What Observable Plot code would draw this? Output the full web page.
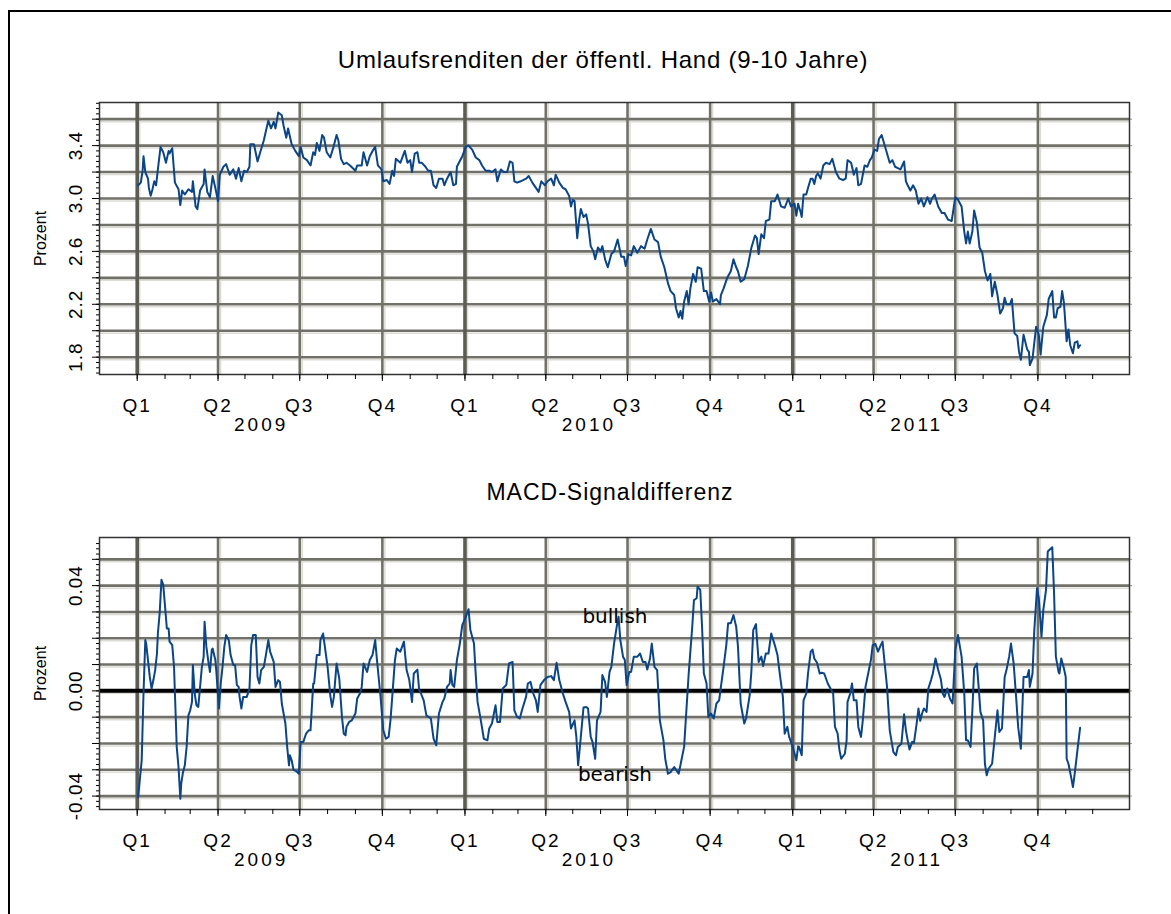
<!DOCTYPE html>
<html><head><meta charset="utf-8">
<script src="https://cdn.jsdelivr.net/npm/d3@7"></script>
<script src="https://cdn.jsdelivr.net/npm/@observablehq/plot@0.6"></script>
<style>
body{margin:0;background:#fff;}
#wrap{position:relative;width:1171px;height:914px;overflow:hidden;background:#fff;}
.border{position:absolute;left:8px;top:10px;width:1200px;height:1000px;border-left:2px solid #000;border-top:2px solid #000;}
.title{position:absolute;text-align:center;font-family:"Liberation Sans",Arial,sans-serif;color:#000;white-space:nowrap;}
#wrap svg{position:absolute;left:0;}
</style></head><body><div id="wrap"><div class="border"></div></div>
<script>
// ---- data: [day offset from 2009-01-01, value] ----
const yieldSeries = [
[1,3.10],[4,3.12],[6,3.21],[7,3.32],[9,3.20],[12,3.15],[13,3.08],[15,3.02],[17,3.07],[19,3.13],[21,3.10],[23,3.22],[26,3.39],[29,3.35],[32,3.27],[35,3.36],[36,3.34],[39,3.38],[42,3.12],[46,3.07],[48,2.95],[50,3.06],[53,3.03],[57,3.07],[61,3.05],[62,3.13],[65,2.94],[67,2.92],[70,3.06],[74,3.11],[75,3.22],[78,3.05],[81,3.01],[84,3.17],[87,3.08],[90,2.98],[92,3.18],[96,3.24],[99,3.26],[103,3.18],[107,3.22],[110,3.15],[113,3.23],[116,3.13],[119,3.21],[122,3.20],[125,3.24],[126,3.41],[130,3.41],[134,3.28],[137,3.35],[141,3.44],[146,3.59],[149,3.53],[152,3.58],[154,3.53],[157,3.65],[161,3.63],[163,3.55],[166,3.46],[168,3.53],[172,3.41],[176,3.36],[180,3.32],[182,3.39],[185,3.31],[189,3.29],[193,3.25],[196,3.35],[198,3.33],[200,3.42],[203,3.36],[206,3.48],[208,3.46],[211,3.35],[215,3.31],[219,3.40],[222,3.48],[224,3.44],[227,3.30],[230,3.26],[233,3.27],[237,3.25],[243,3.21],[245,3.25],[250,3.25],[252,3.35],[256,3.25],[259,3.32],[263,3.37],[265,3.39],[268,3.25],[272,3.22],[274,3.13],[278,3.14],[281,3.11],[284,3.21],[286,3.17],[288,3.30],
[293,3.27],[298,3.36],[301,3.27],[304,3.29],[306,3.20],[309,3.34],[312,3.35],[314,3.27],[317,3.27],[321,3.24],[324,3.21],[327,3.21],[330,3.10],[333,3.08],[336,3.15],[340,3.15],[342,3.10],[345,3.15],[349,3.20],[352,3.10],[355,3.11],[356,3.24],[362,3.32],[366,3.39],[369,3.40],[373,3.37],[377,3.31],[381,3.29],[384,3.25],[388,3.21],[392,3.21],[395,3.20],[399,3.22],[401,3.13],[405,3.22],[408,3.20],[412,3.20],[415,3.28],[418,3.27],[420,3.13],[423,3.12],[427,3.13],[433,3.15],[436,3.17],[440,3.12],[444,3.08],[447,3.05],[450,3.13],[454,3.10],[457,3.13],[461,3.15],[464,3.10],[466,3.18],[470,3.12],[474,3.08],[477,3.07],[481,3.02],[483,2.94],[485,2.99],[487,2.98],[490,2.70],[492,2.83],[494,2.92],[497,2.86],[500,2.88],[502,2.81],[505,2.64],[508,2.60],[510,2.54],[513,2.63],[516,2.60],[518,2.64],[521,2.54],[524,2.48],[528,2.58],[531,2.60],[535,2.69],[539,2.56],[542,2.56],[544,2.49],[547,2.58],[550,2.57],[553,2.64],[557,2.59],[561,2.64],[565,2.62],[568,2.69],[572,2.77],[576,2.69],[580,2.67],[583,2.56],[587,2.48],[591,2.36],[594,2.30],[598,2.27],[600,2.17],[603,2.10],[605,2.15],[607,2.09],[609,2.22],[612,2.30],[614,2.20],[616,2.32],[619,2.43],[622,2.37],[624,2.48],[628,2.47],[631,2.30],[634,2.30],[637,2.22],[639,2.29],[641,2.22],[645,2.24],[649,2.20],[650,2.27],[653,2.32],[657,2.40],[661,2.45],[664,2.54],[667,2.48],[669,2.45],[672,2.37],[676,2.39],[680,2.49],[684,2.63],[688,2.72],[690,2.70],[692,2.58],[695,2.73],[698,2.70],[700,2.83],[704,2.84],[706,2.98],[710,2.98],[713,3.03],[717,2.94],[721,2.93],[725,3.00],[728,2.94],
[732,2.96],[734,2.87],[736,2.96],[739,2.89],[740,2.86],[742,3.03],[745,3.03],[747,3.08],[750,3.15],[752,3.15],[754,3.11],[756,3.17],[758,3.19],[761,3.15],[764,3.25],[767,3.27],[771,3.26],[774,3.30],[778,3.20],[782,3.15],[786,3.14],[789,3.15],[791,3.29],[795,3.27],[798,3.18],[801,3.23],[803,3.10],[806,3.11],[810,3.25],[813,3.24],[816,3.29],[818,3.31],[821,3.37],[824,3.36],[826,3.45],[829,3.48],[832,3.41],[835,3.34],[838,3.27],[841,3.29],[844,3.24],[847,3.23],[850,3.22],[854,3.28],[856,3.13],[858,3.10],[861,3.06],[864,3.10],[867,3.06],[870,2.96],[873,3.00],[876,2.94],[880,3.01],[883,2.96],[885,3.00],[888,3.03],[892,2.94],[896,2.89],[899,2.89],[903,2.84],[907,2.83],[911,3.01],[914,2.99],[918,2.94],[921,2.75],[923,2.66],[925,2.75],[927,2.66],[930,2.75],[932,2.91],[935,2.82],[938,2.63],[941,2.59],[944,2.45],[947,2.38],[950,2.43],[952,2.26],[955,2.37],[958,2.27],[961,2.13],[964,2.17],[966,2.25],[968,2.20],[972,2.20],[974,2.24],[977,1.98],[980,1.96],[982,1.84],[984,1.78],[987,1.97],[991,1.86],[993,1.84],[994,1.74],[997,1.79],[1001,2.03],[1004,1.97],[1006,1.82],[1009,2.03],[1013,2.12],[1015,2.24],[1019,2.30],[1021,2.10],[1023,2.10],[1025,2.17],[1028,2.18],[1030,2.30],[1032,2.21],[1035,1.92],[1037,2.01],[1039,1.89],[1042,1.83],[1044,1.91],[1047,1.92],[1048,1.87],[1050,1.89]
];
const macdSeries = [
[1,-0.0404],[5,-0.0264],[7,-0.001],[9,0.0193],[10,0.018],[12,0.0117],[14,0.0053],[16,0.0009],[18,0.0041],[20,0.0079],[22,0.0142],[23,0.0218],[25,0.0295],[27,0.0422],[29,0.0403],[31,0.032],[33,0.0237],[35,0.0237],[36,0.0187],[39,0.0174],[41,0.0091],[42,-0.001],[44,-0.0213],[46,-0.029],[48,-0.041],[49,-0.0353],[51,-0.0309],[53,-0.0283],[55,-0.0213],[57,-0.0093],[59,-0.0074],[61,-0.0042],[62,0.0098],[64,-0.001],[66,-0.0055],[68,-0.0061],[70,0.0015],[72,0.0091],[74,0.013],[75,0.0263],[77,0.0168],[79,0.0117],[81,0.0072],[83,0.0155],[84,0.0161],[87,0.0117],[88,0.0079],[91,-0.0067],[93,0.0028],[95,0.0091],[97,0.0168],[99,0.0212],[100,0.0206],[102,0.0193],[104,0.0136],[107,0.0098],[109,0.0098],[111,0.0022],[113,0.0015],[114,-0.0023],[116,-0.0067],[118,-0.0023],[122,-0.0023],[125,0.0009],[127,0.0174],[129,0.0212],[132,0.0212],[134,0.0053],[136,0.0028],[138,0.0079],[141,0.0091],[143,0.013],[146,0.0193],[148,0.0149],[152,0.011],[154,0.0015],[157,0.0041],[159,0.0034],[161,-0.0048],[163,-0.0086],[165,-0.0124],[167,-0.0213],[169,-0.0283],[170,-0.0245],[172,-0.0264],[174,-0.03],[177,-0.0305],[180,-0.0315],[182,-0.0194],[185,-0.0194],[188,-0.0163],[191,-0.015],[193,-0.015],[196,0.0028],[197,0.0028],[200,0.0136],[203,0.0136],[204,0.0193],[207,0.0218],[210,0.0142],[212,0.0091],[215,-0.0017],[217,-0.0061],[219,-0.0023],[222,0.0104],[225,0.0047],[228,-0.0099],[230,-0.0163],[232,-0.0169],[233,-0.0137],[236,-0.0118],[239,-0.0112],[243,-0.0086],[245,-0.0029],[248,-0.001],[250,0.0015],[252,0.0104],[256,0.0072],[259,0.0117],[262,0.0136],[265,0.0193],[267,0.0117],[269,0.0047],[271,-0.0023],[274,-0.015],[277,-0.0182],[280,-0.0175],[282,-0.0112],[284,-0.0023],[287,0.0117],[289,0.0161],
[293,0.0149],[297,0.0187],[300,0.0079],[303,0.0041],[306,-0.0042],[308,0.0066],[312,0.0081],[314,0.0003],[316,-0.001],[319,-0.0036],[322,-0.0093],[327,-0.0105],[330,-0.0182],[333,-0.0207],[336,-0.0086],[340,-0.0042],[342,-0.0029],[345,0.0015],[348,0.0028],[349,0.0079],[351,0.0022],[353,0.0015],[356,0.0117],[359,0.0174],[362,0.025],[366,0.0282],[369,0.031],[371,0.0231],[375,0.018],[377,0.006],[379,-0.0042],[382,-0.0099],[386,-0.0182],[390,-0.0188],[392,-0.0143],[395,-0.0124],[399,-0.0055],[401,-0.0118],[404,-0.0118],[407,0.0009],[411,0.0022],[414,0.0104],[418,0.011],[420,-0.0074],[423,-0.0099],[426,-0.0105],[429,-0.0067],[433,-0.0023],[435,0.0028],[438,0.0034],[441,-0.001],[444,-0.0036],[446,-0.008],[449,0.0022],[453,0.0041],[457,0.0053],[461,0.0056],[464,0.0041],[467,0.0107],[470,0.0041],[474,-0.001],[477,-0.0042],[481,-0.008],[483,-0.0143],[487,-0.0112],[489,-0.0175],[491,-0.0283],[494,-0.0175],[497,-0.0063],[500,-0.0061],[502,-0.0067],[505,-0.0175],[507,-0.0194],[510,-0.0258],[512,-0.0112],[516,-0.008],[518,0.006],[521,0.0034],[523,-0.0023],[526,0.0072],[528,0.0091],[531,0.018],[534,0.0244],[536,0.0282],[538,0.0193],[541,0.013],[543,0.0117],[545,0.0022],[548,0.0072],[550,0.0072],[553,0.013],[557,0.013],[560,0.0142],[563,0.011],[566,0.011],[568,0.0081],[571,0.0123],[573,0.018],[576,0.0091],[579,0.0079],[582,-0.0112],[586,-0.0188],[588,-0.0258],[591,-0.0315],[594,-0.0309],[598,-0.029],[603,-0.0315],[606,-0.0264],[609,-0.0213],[612,-0.005],[614,0.006],[616,0.015],[618,0.024],[620,0.0345],[623,0.0352],[624,0.0396],[627,0.0384],[629,0.0244],[631,0.0066],[634,0.0028],[636,-0.0099],[639,-0.0086],[642,-0.0105],[645,-0.0048],[648,-0.0036],[650,0.0015],[653,0.0091],[656,0.0174],[658,0.0257],[661,0.0257],[664,0.0288],[667,0.0244],[669,0.0168],[672,-0.0048],[676,-0.0124],[678,-0.0105],[682,-0.0017],[684,0.0079],[686,0.0231],[689,0.0254],[692,0.011],[695,0.013],[697,0.0094],[700,0.0142],[703,0.0142],[706,0.0218],[710,0.0174],[713,0.0136],[716,0.0053],
[719,-0.0023],[721,-0.0163],[724,-0.0137],[726,-0.0175],[730,-0.0213],[734,-0.0264],[736,-0.0211],[737,-0.0213],[740,-0.0245],[742,-0.0036],[745,-0.001],[747,0.0066],[750,0.0149],[752,0.0157],[754,0.0123],[757,0.0107],[760,0.0066],[762,0.0069],[765,0.0066],[769,0.0028],[772,0.0009],[775,-0.001],[777,-0.0137],[780,-0.0163],[782,-0.0226],[784,-0.0258],[788,-0.0239],[790,-0.0188],[791,-0.0042],[794,-0.001],[796,0.0028],[798,-0.0036],[801,-0.0036],[803,-0.0137],[806,-0.0175],[808,-0.0112],[811,0.0015],[814,0.0066],[817,0.0117],[819,0.0174],[822,0.0178],[825,0.0149],[828,0.0174],[830,0.0187],[832,0.0117],[835,0.0015],[838,-0.015],[842,-0.0232],[845,-0.0245],[847,-0.0213],[851,-0.0201],[854,-0.0089],[856,-0.015],[858,-0.0188],[860,-0.0223],[863,-0.0194],[865,-0.0198],[868,-0.0124],[870,-0.0067],[872,-0.0114],[874,-0.0086],[876,-0.0067],[879,-0.008],[881,0.0009],[884,0.0041],[886,0.0066],[889,0.0123],[892,0.0079],[895,0.0043],[897,-0.001],[899,-0.0023],[902,0.0009],[905,-0.0029],[908,-0.0048],[911,0.0155],[914,0.0212],[918,0.013],[921,-0.001],[923,-0.0188],[925,-0.0188],[928,-0.0213],[930,-0.0074],[932,0.0085],[935,0.0104],[937,0.0015],[939,-0.008],[942,-0.0112],[944,-0.0277],[946,-0.0321],[948,-0.0296],[952,-0.0277],[955,-0.0175],[958,-0.0074],[960,-0.0156],[963,-0.0143],[966,0.0053],[968,0.0079],[971,0.013],[973,0.018],[976,0.0104],[979,-0.0036],[981,-0.0137],[984,-0.022],[987,0.0053],[991,0.0053],[993,0.0079],[994,0.0015],[997,0.0066],[999,0.0231],[1002,0.039],[1004,0.0352],[1007,0.0206],[1009,0.0307],[1012,0.0383],[1014,0.053],[1019,0.0546],[1021,0.0371],[1023,0.013],[1026,0.0072],[1027,0.0066],[1029,0.0123],[1032,0.0085],[1034,0.0053],[1035,-0.0258],[1037,-0.0277],[1040,-0.0328],[1042,-0.0366],[1044,-0.0315],[1047,-0.0226],[1050,-0.014]
];
const quarterLabels = ["Q1","Q2","Q3","Q4"];
const years = [2009, 2010, 2011];
const yieldGrid = [1.8,2.0,2.2,2.4,2.6,2.8,3.0,3.2,3.4,3.6];
const yieldTickLabels = [1.8,2.2,2.6,3.0,3.4];
const macdGrid = [-0.04,-0.03,-0.02,-0.01,0,0.01,0.02,0.03,0.04,0.05];
const macdTickLabels = [-0.04,0,0.04];
const macdNotes = [{day:532, v:0.0284, text:"bullish"},{day:532, v:-0.0317, text:"bearish"}];
const titles = ["Umlaufsrenditen der öffentl. Hand (9-10 Jahre)", "MACD-Signaldifferenz"];

// ---- helpers ----
const base = Date.UTC(2009,0,1);
const toDate = d => new Date(base + d*864e5);
const xDomain = [new Date(Date.UTC(2008,10,20)), new Date(Date.UTC(2012,0,11))];
const quarters = d3.utcMonth.every(3).range(new Date(Date.UTC(2009,0,1)), new Date(Date.UTC(2011,11,2)));
const months = d3.utcMonth.range(new Date(Date.UTC(2009,0,1)), new Date(Date.UTC(2011,11,2)));
const yearStarts = quarters.filter(q => q.getUTCMonth() === 0);
const otherQuarters = quarters.filter(q => q.getUTCMonth() !== 0);
const font = "'Liberation Sans', Arial, sans-serif";

function panel(o) {
  const data = o.series.map(([d, v]) => ({date: toDate(d), v}));
  return Plot.plot({
    width: 1171, height: o.height,
    marginLeft: 99, marginRight: 42, marginTop: o.mt, marginBottom: o.mb,
    x: {type: "utc", domain: xDomain, axis: null},
    y: {domain: o.yDomain, axis: null},
    style: {fontFamily: font, background: "transparent", color: "#000", overflow: "visible"},
    marks: [
      Plot.ruleY(o.grid, {y: d => d, stroke: "#dcdcd4", strokeWidth: 1.5, dy: 2.5}),
      Plot.ruleX(quarters, {x: d => d, stroke: "#dcdcd4", strokeWidth: 1.5, dx: 2.5}),
      Plot.ruleY(o.grid, {y: d => d, stroke: "#727169", strokeWidth: 2.6}),
      Plot.ruleX(otherQuarters, {x: d => d, stroke: "#727169", strokeWidth: 2.6}),
      Plot.ruleX(yearStarts, {x: d => d, stroke: "#5c5b54", strokeWidth: 3.6}),
      ...(o.zero ? [Plot.ruleY([0], {stroke: "#000", strokeWidth: 4})] : []),
      Plot.line(data, {x: "date", y: "v", stroke: "#0b4586", strokeWidth: 2}),
      Plot.frame({stroke: "#333", strokeWidth: 1.5}),
      Plot.axisY(o.grid, {anchor: "left", tickSize: 7, tickFormat: () => "", label: null, stroke: "#000"}),
      Plot.axisY(o.minor, {anchor: "left", tickSize: 3, tickFormat: () => "", label: null, stroke: "#000"}),
      Plot.axisY(o.grid, {anchor: "right", tickSize: 2, tickFormat: () => "", label: null, stroke: "#888"}),
      Plot.axisX(months, {anchor: "bottom", tickSize: 5, tickFormat: () => "", label: null, stroke: "#000"}),
      Plot.axisX(quarters, {anchor: "bottom", tickSize: 7, tickFormat: () => "", label: null, stroke: "#000"}),
      Plot.text(o.labels, {y: d => d, text: o.fmt, frameAnchor: "left", textAnchor: "middle", lineAnchor: "middle", dx: -24, rotate: -90, fontSize: 19, fill: "#000"}),
      Plot.text(["Prozent"], {text: d => d, frameAnchor: "left", textAnchor: "middle", lineAnchor: "middle", dx: -59, rotate: -90, fontSize: 16, fill: "#000"}),
      Plot.text(quarters, {x: d => d, text: d => quarterLabels[d.getUTCMonth() / 3], frameAnchor: "bottom", lineAnchor: "middle", dy: 31, fontSize: 19, fill: "#000"}),
      Plot.text(years, {x: y => new Date(Date.UTC(y, 4, 19)), text: y => String(y), frameAnchor: "bottom", lineAnchor: "middle", dy: 50, fontSize: 19, fill: "#000"}),
      ...(o.notes ? [Plot.text(o.notes, {x: d => toDate(d.day), y: "v", text: "text", fontSize: 20, fontFamily: "DejaVu Sans", fill: "#000"})] : [])
    ]
  });
}

const wrap = document.getElementById("wrap");
const top1 = panel({
  series: yieldSeries, yDomain: [1.669, 3.726], grid: yieldGrid, labels: yieldTickLabels,
  fmt: d => d3.format(".1f")(d), minor: d3.range(1.68, 3.73, 0.04),
  height: 450, mt: 102, mb: 76
});
top1.style.top = "0px";
const bot = panel({
  series: macdSeries, yDomain: [-0.0451, 0.0583], grid: macdGrid, labels: macdTickLabels,
  fmt: d => d < 0 ? "-0.04" : d3.format(".2f")(d), minor: d3.range(-0.044, 0.058, 0.002),
  height: 464, mt: 87, mb: 105, zero: true, notes: macdNotes
});
bot.style.top = "450px";
wrap.appendChild(top1);
wrap.appendChild(bot);
for (const svg of [top1, bot]) {
  svg.querySelectorAll("text").forEach(t => {
    const s = t.textContent;
    if (/^Q\d$/.test(s)) t.setAttribute("letter-spacing", "2");
    else if (/^20\d\d$/.test(s)) t.setAttribute("letter-spacing", "3");
    else if (/^-?\d\.\d+$/.test(s)) t.setAttribute("letter-spacing", "1");
  });
}
[[titles[0], 48, 24, 603, 0.75], [titles[1], 481, 23, 610, 1]].forEach(([txt, top, size, cx, ls]) => {
  const div = document.createElement("div");
  div.className = "title";
  div.textContent = txt;
  div.style.top = top + "px";
  div.style.left = (cx - 600) + "px";
  div.style.width = "1200px";
  div.style.fontSize = size + "px";
  div.style.lineHeight = size + "px";
  div.style.letterSpacing = ls + "px";
  wrap.appendChild(div);
});
</script></body></html>
